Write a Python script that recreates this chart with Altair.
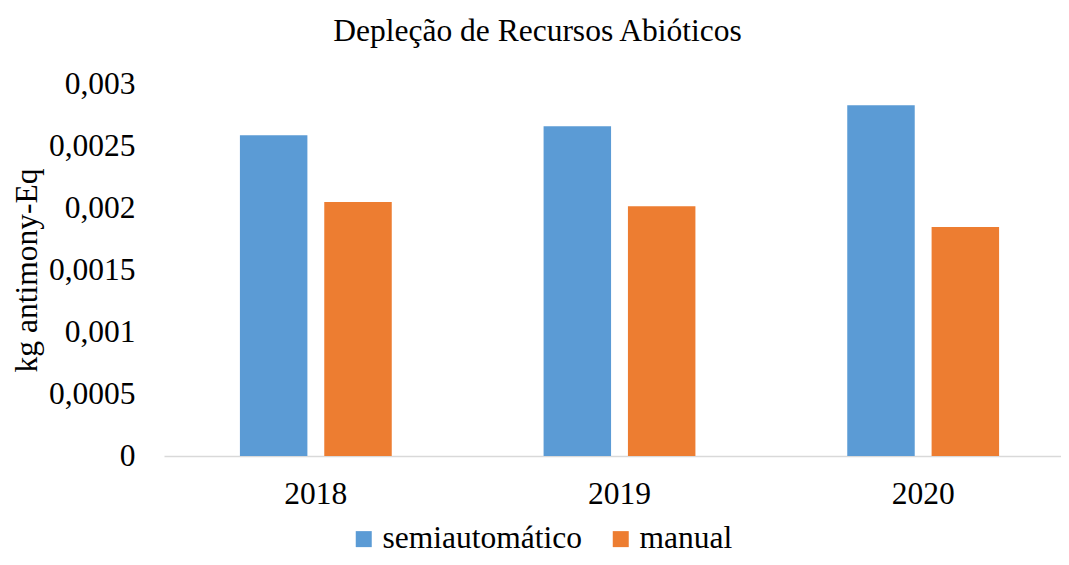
import altair as alt
import pandas as pd

years = ["2018", "2019", "2020"]
series_names = ["semiautomático", "manual"]
semi_values = [0.002586, 0.002659, 0.002828]
manual_values = [0.002048, 0.002014, 0.001847]
y_ticks = [0, 0.0005, 0.001, 0.0015, 0.002, 0.0025, 0.003]
colors = ["#5B9BD5", "#ED7D31"]

rows = []
for i, yr in enumerate(years):
    rows.append({"year": yr, "serie": series_names[0], "value": semi_values[i]})
    rows.append({"year": yr, "serie": series_names[1], "value": manual_values[i]})
df = pd.DataFrame(rows)

FONT = "Liberation Serif, Times New Roman, serif"
FS = 31.5

chart = alt.Chart(df).mark_bar().encode(
    x=alt.X(
        "year:N",
        sort=years,
        scale=alt.Scale(range=[0, 911], paddingInner=0.5, paddingOuter=0.25),
        axis=alt.Axis(
            title=None,
            labelAngle=0,
            ticks=False,
            labelPadding=22,
            labelFont=FONT,
            labelFontSize=FS,
            labelColor="#000000",
            domainColor="#D9D9D9",
            domainWidth=1.5,
            grid=False,
        ),
    ),
    xOffset=alt.XOffset(
        "serie:N",
        sort=series_names,
        scale=alt.Scale(paddingInner=0.2, paddingOuter=0),
    ),
    y=alt.Y(
        "value:Q",
        scale=alt.Scale(domain=[0, 0.003], nice=False),
        axis=alt.Axis(
            title="kg antimony-Eq",
            values=y_ticks,
            labelExpr="replace(toString(datum.value), '.', ',')",
            ticks=False,
            domain=False,
            grid=False,
            labelPadding=29,
            labelFont=FONT,
            labelFontSize=FS,
            labelColor="#000000",
            labelBaseline="middle",
            titleFont=FONT,
            titleFontSize=FS,
            titleFontWeight="normal",
            titleColor="#000000",
            titleX=-128,
            titleY=186,
            titleAlign="center",
            titleBaseline="alphabetic",
            titleAngle=270,
        ),
    ),
    color=alt.Color(
        "serie:N",
        sort=series_names,
        scale=alt.Scale(domain=series_names, range=colors),
        legend=alt.Legend(
            title=None,
            orient="none",
            direction="horizontal",
            legendX=184,
            legendY=439,
            symbolType="square",
            symbolSize=256,
            symbolStrokeWidth=0,
            labelFont=FONT,
            labelFontSize=FS,
            labelColor="#000000",
            labelOffset=3,
            labelLimit=0,
            columnPadding=23,
            padding=0,
        ),
    ),
).properties(
    width=897,
    height=372,
    background="#FFFFFF",
    title=alt.Title(
        "Depleção de Recursos Abióticos",
        font=FONT,
        fontSize=FS,
        fontWeight="normal",
        color="#000000",
        anchor="middle",
        dx=-75,
        dy=24,
        baseline="alphabetic",
        offset=20,
    ),
    autosize=alt.AutoSizeParams(type="none"),
    padding={"left": 156, "top": 76, "right": 0, "bottom": 101},
).configure_view(stroke=None)

chart.save("out.html", embed_options={"renderer": "svg", "actions": False})
